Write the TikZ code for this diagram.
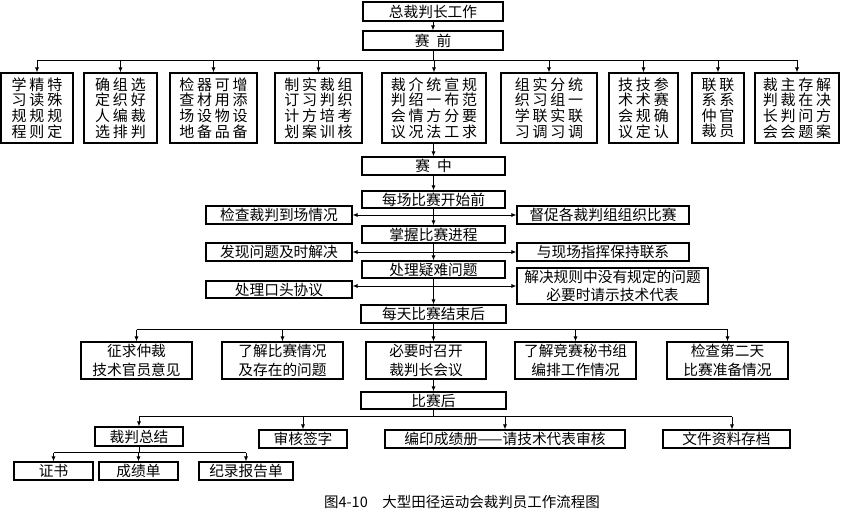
\documentclass[tikz,border=0pt]{standalone}
\usepackage{fontspec}
\setmainfont{Noto Sans CJK SC}
\usetikzlibrary{arrows.meta}
\newcommand\cgap{\hspace{2.8pt}}
\begin{document}
\begin{tikzpicture}[x=1pt,y=-1pt,
  box/.style={draw, line width=1.1pt, inner sep=0pt, align=center,
    font=\fontsize{14.7}{15.5}\selectfont},
  vbox/.style={box, minimum height=70, font=\fontsize{15}{15.6}\selectfont},
  twol/.style={box, font=\fontsize{14.7}{18.5}\selectfont},
  conn/.style={line width=0.8pt},
  arr/.style={conn, -{Latex[length=5pt,width=4pt]}}]
\useasboundingbox (0,0) rectangle (841,512);
% top
\node[box, minimum width=140, minimum height=19] (top) at (433,11.5) {总裁判长工作};
\node[box, minimum width=140, minimum height=19] (pre) at (433,40.5) {赛\hspace{7pt}前};
% vertical boxes
\node[vbox, minimum width=72] (v1) at (37,108) {学\cgap 精\cgap 特\\习\cgap 读\cgap 殊\\规\cgap 规\cgap 规\\程\cgap 则\cgap 定};
\node[vbox, minimum width=73] (v2) at (120.5,108) {确\cgap 组\cgap 选\\定\cgap 织\cgap 好\\人\cgap 编\cgap 裁\\选\cgap 排\cgap 判};
\node[vbox, minimum width=87] (v3) at (213.5,108) {检\cgap 器\cgap 可\cgap 增\\查\cgap 材\cgap 用\cgap 添\\场\cgap 设\cgap 物\cgap 设\\地\cgap 备\cgap 品\cgap 备};
\node[vbox, minimum width=87] (v4) at (318.5,108) {制\cgap 实\cgap 裁\cgap 组\\订\cgap 习\cgap 判\cgap 织\\计\cgap 方\cgap 培\cgap 考\\划\cgap 案\cgap 训\cgap 核};
\node[vbox, minimum width=104] (v5) at (434,108) {裁\cgap 介\cgap 统\cgap 宣\cgap 规\\判\cgap 绍\cgap 一\cgap 布\cgap 范\\会\cgap 情\cgap 方\cgap 分\cgap 要\\议\cgap 况\cgap 法\cgap 工\cgap 求};
\node[vbox, minimum width=96] (v6) at (549,108) {组\cgap 实\cgap 分\cgap 统\\织\cgap 习\cgap 组\cgap 一\\学\cgap 联\cgap 实\cgap 联\\习\cgap 调\cgap 习\cgap 调};
\node[vbox, minimum width=69] (v7) at (643.5,108) {技\cgap 技\cgap 参\\术\cgap 术\cgap 赛\\会\cgap 规\cgap 确\\议\cgap 定\cgap 认};
\node[vbox, minimum width=52] (v8) at (718,108) {联\cgap 联\\系\cgap 系\\仲\cgap 官\\裁\cgap 员};
\node[vbox, minimum width=84] (v9) at (797,108) {裁\cgap 主\cgap 存\cgap 解\\判\cgap 裁\cgap 在\cgap 决\\长\cgap 判\cgap 问\cgap 方\\会\cgap 会\cgap 题\cgap 案};
% during
\node[box, minimum width=143, minimum height=18] (mid) at (433.5,166) {赛\hspace{7pt}中};
\node[box, minimum width=143, minimum height=17] (s1) at (433.5,199.5) {每场比赛开始前};
\node[box, minimum width=146, minimum height=18] (l1) at (279,215) {检查裁判到场情况};
\node[box, minimum width=172, minimum height=18] (r1) at (603,215) {督促各裁判组组织比赛};
\node[box, minimum width=143, minimum height=17] (s2) at (433.5,234.5) {掌握比赛进程};
\node[box, minimum width=146, minimum height=18] (l2) at (279,252) {发现问题及时解决};
\node[box, minimum width=172, minimum height=18] (r2) at (603,252) {与现场指挥保持联系};
\node[box, minimum width=143, minimum height=17] (s3) at (433.5,269.5) {处理疑难问题};
\node[box, minimum width=146, minimum height=17] (l3) at (279,289.5) {处理口头协议};
\node[twol, minimum width=191, minimum height=36] (r3) at (612.5,286) {解决规则中没有规定的问题\\必要时请示技术代表};
\node[box, minimum width=145, minimum height=18] (s4) at (433.5,314) {每天比赛结束后};
% daily
\node[twol, minimum width=111, minimum height=37] (d1) at (136.5,360.5) {征求仲裁\\技术官员意见};
\node[twol, minimum width=121, minimum height=37] (d2) at (282.5,360.5) {了解比赛情况\\及存在的问题};
\node[twol, minimum width=120, minimum height=37] (d3) at (426,360.5) {必要时召开\\裁判长会议};
\node[twol, minimum width=121, minimum height=37] (d4) at (575.5,360.5) {了解竞赛秘书组\\编排工作情况};
\node[twol, minimum width=121, minimum height=37] (d5) at (727.5,360.5) {检查第二天\\比赛准备情况};
% after
\node[box, minimum width=145, minimum height=17] (after) at (433.5,400.5) {比赛后};
\node[box, minimum width=88, minimum height=19] (f1) at (139,436.5) {裁判总结};
\node[box, minimum width=88, minimum height=18] (f2) at (303,439) {审核签字};
\node[box, minimum width=240, minimum height=18] (f3) at (505,439) {编印成绩册——请技术代表审核};
\node[box, minimum width=127, minimum height=18] (f4) at (726.5,439) {文件资料存档};
\node[box, minimum width=79, minimum height=18] (g1) at (53.5,471) {证书};
\node[box, minimum width=79, minimum height=18] (g2) at (138.5,471) {成绩单};
\node[box, minimum width=94, minimum height=18] (g3) at (246,471) {纪录报告单};
\node[font=\fontsize{14.5}{15}\selectfont, inner sep=0pt] (cap) at (462,502) {图4-10\hspace{1em}大型田径运动会裁判员工作流程图};
% connectors
\draw[arr] (top) -- (pre);
\draw[conn] (pre.south) -- ++(0,9.5) coordinate (b1);
\draw[conn] (v1.north |- b1) -- (v9.north |- b1);
\foreach \n in {v1,v2,v3,v4,v5,v6,v7,v8,v9}
  \draw[arr] (\n.north |- b1) -- (\n.north);
\draw[arr] (mid.north |- v5.south) -- (mid.north);
\draw[arr] (mid) -- (s1);
\draw[arr] (s1) -- (s2);
\draw[arr] (s2) -- (s3);
\draw[arr] (s3) -- (s4);
\draw[arr] (s1.south |- l1.east) -- (l1.east);
\draw[arr] (s1.south |- r1.west) -- (r1.west);
\draw[arr] (s2.south |- l2.east) -- (l2.east);
\draw[arr] (s2.south |- r2.west) -- (r2.west);
\draw[arr] (s3.south |- r3.west) -- (l3.east |- r3.west);
\draw[arr] (s3.south |- r3.west) -- (r3.west);
\draw[conn] (s4.south) -- ++(0,6) coordinate (b2);
\draw[conn] (d1.north |- b2) -- (d5.north |- b2);
\foreach \n in {d1,d2,d4,d5}
  \draw[arr] (\n.north |- b2) -- (\n.north);
\draw[arr] (b2) -- (b2 |- d3.north);
\draw[arr] (after.north |- d3.south) -- (after.north);
\draw[conn] (after.south) -- ++(0,7) coordinate (b3);
\draw[conn] (f1.north |- b3) -- ([xshift=5.5pt]f4.north |- b3);
\foreach \n in {f1,f2,f3}
  \draw[arr] (\n.north |- b3) -- (\n.north);
\draw[arr] ([xshift=5.5pt]f4.north |- b3) -- ([xshift=5.5pt]f4.north);
\draw[conn] (f1.south) -- ++(0,6) coordinate (b4);
\draw[conn] (g1.north |- b4) -- (g3.north |- b4);
\foreach \n in {g1,g2,g3}
  \draw[arr] (\n.north |- b4) -- (\n.north);
\end{tikzpicture}
\end{document}
